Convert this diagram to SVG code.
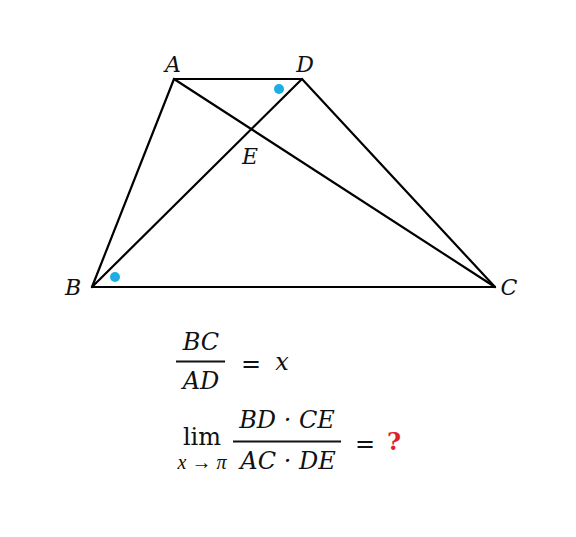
<svg xmlns="http://www.w3.org/2000/svg" width="576" height="537" viewBox="0 0 576 537">
<style>
.ln{stroke:#000;stroke-width:2.2;fill:none;stroke-linecap:round;stroke-linejoin:round}
.lbl{font-family:"DejaVu Serif","Liberation Serif",serif;font-style:italic;font-size:22px;fill:#111}
.m{font-family:"DejaVu Serif","Liberation Serif",serif;font-size:24px;fill:#111}
.mi{font-style:italic}
.sub{font-family:"Liberation Serif","DejaVu Serif",serif;font-style:italic;font-size:20px;fill:#111}
.dot{fill:#1aaee5}
</style>
<rect width="576" height="537" fill="#fff"/>
<g id="connectors">
<line class="ln" x1="174" y1="79" x2="302" y2="79"/>
<line class="ln" x1="174" y1="79" x2="92" y2="287"/>
<line class="ln" x1="92" y1="287" x2="495" y2="287"/>
<line class="ln" x1="302" y1="79" x2="495" y2="287"/>
<line class="ln" x1="174" y1="79" x2="495" y2="287"/>
<line class="ln" x1="92" y1="287" x2="302" y2="79"/>
</g>
<g id="A"><text class="lbl" x="173" y="72" text-anchor="middle">A</text></g>
<g id="D"><text class="lbl" x="305" y="72" text-anchor="middle">D</text></g>
<g id="E"><text class="lbl" x="250" y="164" text-anchor="middle">E</text></g>
<g id="B"><text class="lbl" x="73" y="295" text-anchor="middle">B</text></g>
<g id="C"><text class="lbl" x="509" y="295" text-anchor="middle">C</text></g>
<g id="marks">
<circle class="dot" cx="279" cy="89" r="5"/>
<circle class="dot" cx="115" cy="277" r="5"/>
</g>
<g id="formula1">
<text class="m mi" x="201" y="350" text-anchor="middle">BC</text>
<line x1="176" y1="361.5" x2="225" y2="361.5" stroke="#111" stroke-width="2"/>
<text class="m mi" x="201" y="389" text-anchor="middle">AD</text>
<text class="m" x="251" y="372" text-anchor="middle">=</text>
<text class="m mi" x="282" y="370" text-anchor="middle">x</text>
</g>
<g id="formula2">
<text class="m" x="202" y="445" text-anchor="middle">lim</text>
<text class="sub" x="202" y="469" text-anchor="middle">x → π</text>
<text class="m mi" x="287" y="428" text-anchor="middle">BD · CE</text>
<line x1="233" y1="441.5" x2="341" y2="441.5" stroke="#111" stroke-width="2"/>
<text class="m mi" x="288" y="469" text-anchor="middle">AC · DE</text>
<text class="m" x="365" y="452" text-anchor="middle">=</text>
<text class="m" x="394" y="450" text-anchor="middle" font-size="26" font-weight="bold" style="fill:#e0202a">?</text>
</g>
</svg>
